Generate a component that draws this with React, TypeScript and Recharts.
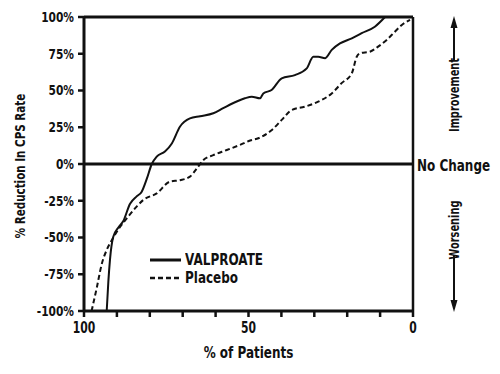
import { LineChart, Line, XAxis, YAxis, ReferenceLine, Legend } from "recharts"

const FONT = "'DejaVu Sans', sans-serif"

// % of patients (x) vs % reduction in CPS rate (y)
const valproateX = [93.1, 92.6, 92.1, 91.1, 89.5, 88.1, 86.0, 84, 82.5, 80.9, 79.4, 77.9, 75.4, 73.3, 70.8, 67.8, 64.7, 60.7, 57.7, 54.6, 51.1, 49, 46.5, 45.5, 43, 39.9, 35.9, 32.3, 30.3, 28.8, 26.7, 24.7, 22.2, 18.6, 15.6, 11.6, 8.5]
const valproateY = [-100, -80, -65, -49.5, -43, -39, -27, -22, -19, -10, 0, 5, 8.5, 14, 25.5, 31, 32.5, 34.5, 38, 41.5, 44.7, 45.8, 44.7, 48, 50.3, 58.3, 60.5, 65, 73, 73, 72, 77.6, 82, 85.5, 89, 93.4, 100]
const placeboX = [97.7, 96.1, 94.6, 93.1, 91.6, 89.1, 87, 84, 82, 77.9, 73.9, 70.8, 67.8, 65.7, 63.7, 60.7, 56.6, 52.6, 49.5, 47, 43, 39.9, 36.9, 32.8, 28.8, 24.7, 21.7, 18.6, 17.1, 16.1, 13.1, 10.5, 8, 5.5, 3.4, 0.9]
const placeboY = [-100, -84, -68, -58.5, -52, -43, -37, -29, -24.5, -20, -12, -11, -8.6, -3, 2.7, 6, 9.5, 13, 16, 17.5, 23, 30, 36.7, 39, 42.4, 48, 55, 61.7, 73, 75.3, 76.4, 80, 84.4, 90, 94.6, 98]

const xTicks = [0, 10, 20, 30, 40, 50, 60, 70, 80, 90, 100]
const xLabeled = [0, 50, 100]
const yTicks = [-100, -75, -50, -25, 0, 25, 50, 75, 100]

const valproate = valproateX.map((pct, i) => ({ pct, val: valproateY[i] }))
const placebo = placeboX.map((pct, i) => ({ pct, val: placeboY[i] }))

// bold text squeezed sideways, standing in for a condensed face
function Narrow({ x, y, size, sx = 0.76, anchor = "start", angle = 0, dy = "0.35em", children }: any) {
  return (
    <g transform={`translate(${x},${y}) rotate(${angle}) scale(${sx},1)`}>
      <text x={0} y={0} dy={dy} textAnchor={anchor} fontSize={size} fontWeight={700} fontFamily={FONT} fill="#111">
        {children}
      </text>
    </g>
  )
}

function YTick(props: any) {
  const { x, y, payload } = props
  return <Narrow x={x} y={y} size={14} anchor="end">{`${payload.value}%`}</Narrow>
}

function XTick(props: any) {
  const { x, y, payload } = props
  if (!xLabeled.includes(payload.value)) return null
  return <Narrow x={x} y={y} size={15} sx={0.72} anchor="middle" dy="0.9em">{String(payload.value)}</Narrow>
}

function YTitle(props: any) {
  const { viewBox } = props
  return (
    <Narrow x={viewBox.x + 20} y={viewBox.y + viewBox.height / 2 + 2} size={14} sx={0.74} anchor="middle" angle={-90}>
      % Reduction In CPS Rate
    </Narrow>
  )
}

function XTitle(props: any) {
  const { viewBox } = props
  return (
    <Narrow x={viewBox.x + viewBox.width / 2} y={viewBox.y + 41} size={16} sx={0.75} anchor="middle">
      % of Patients
    </Narrow>
  )
}

function ZeroNote(props: any) {
  const { viewBox } = props
  const x = viewBox.x + viewBox.width
  const y = viewBox.y
  const ax = x + 41
  return (
    <g>
      <Narrow x={x + 4} y={y + 1} size={16} sx={0.75}>No Change</Narrow>
      <Narrow x={ax} y={y - 69} size={14} sx={0.7} anchor="middle" angle={-90}>Improvement</Narrow>
      <line x1={ax} y1={y - 104} x2={ax} y2={y - 138} stroke="#111" strokeWidth={2} />
      <polygon points={`${ax - 3.5},${y - 136} ${ax + 3.5},${y - 136} ${ax},${y - 148}`} fill="#111" />
      <Narrow x={ax} y={y + 66} size={14} sx={0.7} anchor="middle" angle={-90}>Worsening</Narrow>
      <line x1={ax} y1={y + 91} x2={ax} y2={y + 138} stroke="#111" strokeWidth={2} />
      <polygon points={`${ax - 3.5},${y + 136} ${ax + 3.5},${y + 136} ${ax},${y + 148}`} fill="#111" />
    </g>
  )
}

function LegendBox() {
  const row = { display: "flex", alignItems: "center", height: 18 }
  const label = { display: "inline-block", transform: "scaleX(0.8)", transformOrigin: "left center" }
  return (
    <div style={{ fontFamily: FONT, fontWeight: 700, fontSize: 15, color: "#111", lineHeight: "18px", whiteSpace: "nowrap" }}>
      <div style={row}>
        <svg width={35} height={6}><line x1={0} y1={3} x2={31} y2={3} stroke="#111" strokeWidth={3} /></svg>
        <span style={label}>VALPROATE</span>
      </div>
      <div style={row}>
        <svg width={35} height={6}><line x1={0} y1={3} x2={31} y2={3} stroke="#111" strokeWidth={2.5} strokeDasharray="5 3" /></svg>
        <span style={label}>Placebo</span>
      </div>
    </div>
  )
}

export default function App() {
  return (
    <div style={{ position: "absolute", left: 0, top: 0, width: 500, height: 374, background: "#fff" }}>
      <LineChart width={500} height={374} margin={{ top: 17, right: 87, bottom: 0, left: 0 }}>
        <XAxis
          dataKey="pct"
          type="number"
          domain={[0, 100]}
          reversed
          ticks={xTicks}
          interval={0}
          tick={XTick}
          tickSize={6}
          tickMargin={2}
          height={63}
          axisLine={{ stroke: "#111", strokeWidth: 3 }}
          tickLine={{ stroke: "#111", strokeWidth: 2.5 }}
          label={{ content: XTitle }}
        />
        <YAxis
          type="number"
          domain={[-100, 100]}
          ticks={yTicks}
          interval={0}
          tick={YTick}
          tickSize={6}
          tickMargin={4}
          width={84}
          axisLine={{ stroke: "#111", strokeWidth: 3 }}
          tickLine={{ stroke: "#111", strokeWidth: 2.5 }}
          label={{ content: YTitle }}
        />
        <ReferenceLine y={100} stroke="#111" strokeWidth={3} />
        <ReferenceLine x={0} stroke="#111" strokeWidth={2.5} />
        <ReferenceLine y={0} stroke="#111" strokeWidth={3} label={{ content: ZeroNote }} />
        <Legend
          content={LegendBox}
          layout="horizontal"
          verticalAlign="middle"
          align="center"
          wrapperStyle={{ position: "absolute", left: 150, top: 251, width: "auto" }}
        />
        <Line data={valproate} dataKey="val" name="VALPROATE" type="monotone" stroke="#111" strokeWidth={2} dot={false} isAnimationActive={false} />
        <Line data={placebo} dataKey="val" name="Placebo" type="monotone" stroke="#111" strokeWidth={2} strokeDasharray="5 3" dot={false} isAnimationActive={false} />
      </LineChart>
    </div>
  )
}
